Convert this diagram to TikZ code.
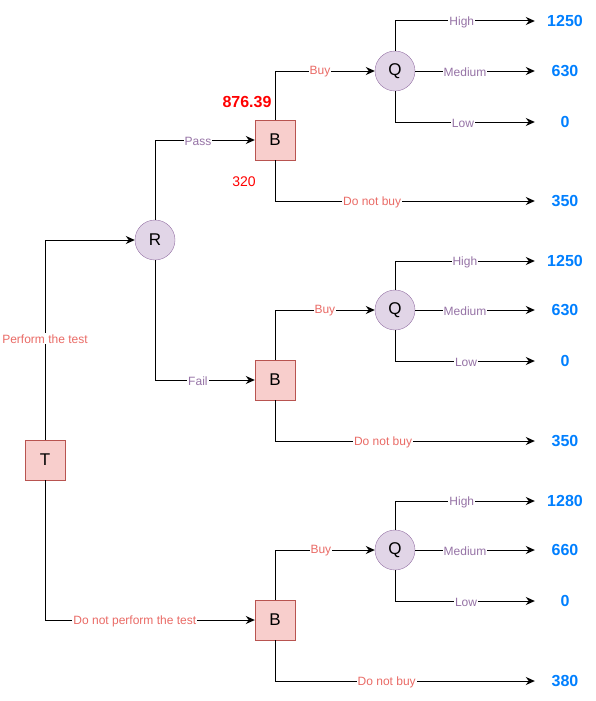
\documentclass[tikz,border=0pt]{standalone}
\usepackage{fontspec}
\setmainfont{Liberation Sans}
\usetikzlibrary{arrows.meta}
\definecolor{boxFill}{HTML}{F8CECC}
\definecolor{boxLine}{HTML}{B85450}
\definecolor{chanceFill}{HTML}{E1D5E7}
\definecolor{chanceLine}{HTML}{9673A6}
\definecolor{lblRed}{HTML}{EA6B66}
\definecolor{lblPurple}{HTML}{9673A6}
\definecolor{valBlue}{HTML}{007FFF}
\begin{document}
\begin{tikzpicture}[x=1pt, y=-1pt,
    decStyle/.style={rectangle, draw=boxLine, fill=boxFill, minimum size=40pt, inner sep=0pt, font=\fontsize{17}{20}\selectfont},
    chanceStyle/.style={circle, draw=chanceLine, fill=chanceFill, minimum size=40pt, inner sep=0pt, font=\fontsize{17}{20}\selectfont},
    valStyle/.style={text=valBlue, minimum width=60pt, inner sep=0pt, font=\fontsize{16}{19}\selectfont\bfseries},
    redLbl/.style={text=lblRed, fill=white, inner sep=1pt, yshift=-1pt, font=\fontsize{12}{14}\selectfont},
    purpleLbl/.style={text=lblPurple, fill=white, inner sep=1pt, yshift=-1pt, font=\fontsize{12}{14}\selectfont},
    edgeStyle/.style={draw, line width=1pt, -{Stealth[length=9pt, width=8pt]}}]
    \useasboundingbox (0, 0) rectangle (596, 701);

    \node[decStyle]    (T)  at ( 45, 460) {T};
    \node[chanceStyle] (R)  at (155, 240) {R};
    \node[decStyle]    (B1) at (275, 140) {B};
    \node[decStyle]    (B2) at (275, 380) {B};
    \node[decStyle]    (B3) at (275, 620) {B};
    \node[chanceStyle] (Q1) at (395,  71) {Q};
    \node[chanceStyle] (Q2) at (395, 310) {Q};
    \node[chanceStyle] (Q3) at (395, 550) {Q};

    \node[valStyle] (V1_H) at (565,  21) {1250};
    \node[valStyle] (V1_M) at (565,  71) {630};
    \node[valStyle] (V1_L) at (565, 122) {0};
    \node[valStyle] (V1_N) at (565, 201) {350};
    \node[valStyle] (V2_H) at (565, 261) {1250};
    \node[valStyle] (V2_M) at (565, 310) {630};
    \node[valStyle] (V2_L) at (565, 361) {0};
    \node[valStyle] (V2_N) at (565, 441) {350};
    \node[valStyle] (V3_H) at (565, 501) {1280};
    \node[valStyle] (V3_M) at (565, 550) {660};
    \node[valStyle] (V3_L) at (565, 601) {0};
    \node[valStyle] (V3_N) at (565, 681) {380};

    \node[text=red, font=\fontsize{16}{19}\selectfont\bfseries] (B1_EV) at (247, 102) {876.39};
    \node[text=red, font=\fontsize{14}{17}\selectfont] (B1_C) at (244, 182) {320};

    \draw[edgeStyle] (T.north) |- node[redLbl, pos=0.255] {Perform the test} (R.west);
    \draw[edgeStyle] (T.south) |- node[redLbl, pos=0.714] {Do not perform the test} (B3.west);
    \draw[edgeStyle] (R.north) |- node[purpleLbl, pos=0.715] {Pass} (B1.west);
    \draw[edgeStyle] (R.south) |- node[purpleLbl, pos=0.715] {Fail} (B2.west);

    \draw[edgeStyle] (B1.north) |- node[redLbl, pos=0.725] {Buy} (Q1.west);
    \draw[edgeStyle] (B1.south) |- node[redLbl, pos=0.687] {Do not buy} (V1_N.west);
    \draw[edgeStyle] (B2.north) |- node[redLbl, pos=0.75] {Buy} (Q2.west);
    \draw[edgeStyle] (B2.south) |- node[redLbl, pos=0.708] {Do not buy} (V2_N.west);
    \draw[edgeStyle] (B3.north) |- node[redLbl, pos=0.73] {Buy} (Q3.west);
    \draw[edgeStyle] (B3.south) |- node[redLbl, pos=0.715] {Do not buy} (V3_N.west);

    \draw[edgeStyle] (Q1.north) |- node[purpleLbl, pos=0.739] {High} (V1_H.west);
    \draw[edgeStyle] (Q1.east) -- node[purpleLbl, pos=0.417] {Medium} (V1_M.west);
    \draw[edgeStyle] (Q1.south) |- node[purpleLbl, pos=0.743] {Low} (V1_L.west);
    \draw[edgeStyle] (Q2.north) |- node[purpleLbl, pos=0.75] {High} (V2_H.west);
    \draw[edgeStyle] (Q2.east) -- node[purpleLbl, pos=0.417] {Medium} (V2_M.west);
    \draw[edgeStyle] (Q2.south) |- node[purpleLbl, pos=0.754] {Low} (V2_L.west);
    \draw[edgeStyle] (Q3.north) |- node[purpleLbl, pos=0.739] {High} (V3_H.west);
    \draw[edgeStyle] (Q3.east) -- node[purpleLbl, pos=0.417] {Medium} (V3_M.west);
    \draw[edgeStyle] (Q3.south) |- node[purpleLbl, pos=0.754] {Low} (V3_L.west);
\end{tikzpicture}
\end{document}
